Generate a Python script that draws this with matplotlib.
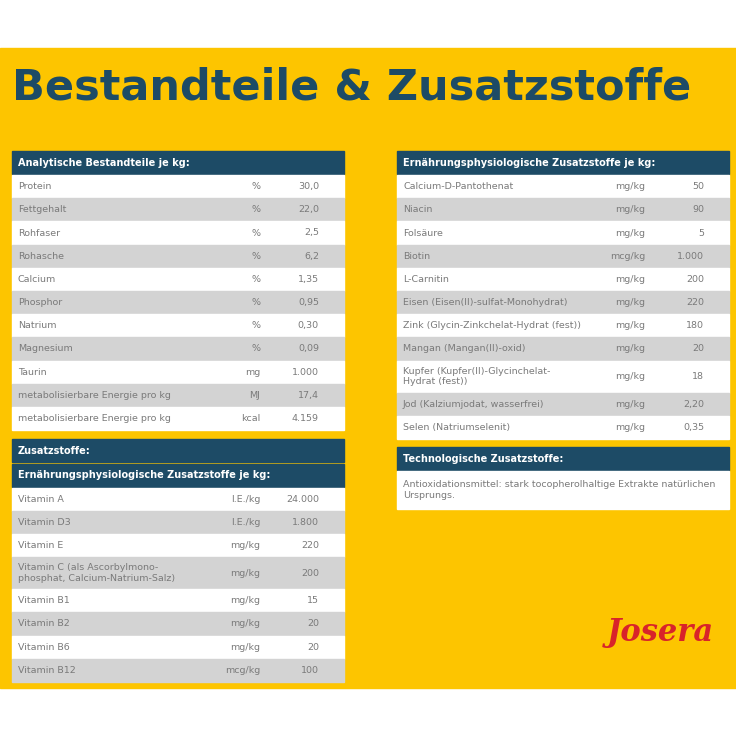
import matplotlib
matplotlib.use("Agg")
import matplotlib.pyplot as plt
from matplotlib.patches import Rectangle

title = "Bestandteile & Zusatzstoffe"

analyt_names = ["Protein", "Fettgehalt", "Rohfaser", "Rohasche", "Calcium", "Phosphor",
                "Natrium", "Magnesium", "Taurin", "metabolisierbare Energie pro kg",
                "metabolisierbare Energie pro kg"]
analyt_units = ["%", "%", "%", "%", "%", "%", "%", "%", "mg", "MJ", "kcal"]
analyt_values = ["30,0", "22,0", "2,5", "6,2", "1,35", "0,95", "0,30", "0,09", "1.000", "17,4", "4.159"]

vit_names = ["Vitamin A", "Vitamin D3", "Vitamin E",
             "Vitamin C (als Ascorbylmono-\nphosphat, Calcium-Natrium-Salz)",
             "Vitamin B1", "Vitamin B2", "Vitamin B6", "Vitamin B12"]
vit_units = ["I.E./kg", "I.E./kg", "mg/kg", "mg/kg", "mg/kg", "mg/kg", "mg/kg", "mcg/kg"]
vit_values = ["24.000", "1.800", "220", "200", "15", "20", "20", "100"]

min_names = ["Calcium-D-Pantothenat", "Niacin", "Folsäure", "Biotin", "L-Carnitin",
             "Eisen (Eisen(II)-sulfat-Monohydrat)", "Zink (Glycin-Zinkchelat-Hydrat (fest))",
             "Mangan (Mangan(II)-oxid)", "Kupfer (Kupfer(II)-Glycinchelat-\nHydrat (fest))",
             "Jod (Kalziumjodat, wasserfrei)", "Selen (Natriumselenit)"]
min_units = ["mg/kg", "mg/kg", "mg/kg", "mcg/kg", "mg/kg", "mg/kg", "mg/kg", "mg/kg",
             "mg/kg", "mg/kg", "mg/kg"]
min_values = ["50", "90", "5", "1.000", "200", "220", "180", "20", "18", "2,20", "0,35"]

tech_text = "Antioxidationsmittel: stark tocopherolhaltige Extrakte natürlichen\nUrsprungs."

YEL = "#fdc500"
HDR = "#1d4b66"
GREY = "#d3d3d3"
TXT = "#7a7a7a"

fig = plt.figure(figsize=(7.36, 7.36), dpi=100)
ax = fig.add_axes([0, 0, 1, 1])
ax.set_xlim(0, 736)
ax.set_ylim(736, 0)
ax.axis("off")
ax.add_patch(Rectangle((0, 48), 736, 640, color=YEL, zorder=0))

ax.text(12, 88, title, fontsize=31, fontweight="bold", color="#1d4b66",
        family="DejaVu Sans", va="center", ha="left")

def header(x0, x1, y, text, h=23):
    ax.add_patch(Rectangle((x0, y), x1 - x0, h, color=HDR, zorder=1))
    ax.text(x0 + 6, y + h / 2, text, color="white", fontsize=7, fontweight="bold",
            va="center", ha="left", zorder=2)
    return y + h

def rows(x0, x1, y, names, units, values, ux, vx, rh=23.2):
    for i, (n, u, v) in enumerate(zip(names, units, values)):
        h = rh * (1.38 if "\n" in n else 1)
        ax.add_patch(Rectangle((x0, y), x1 - x0, h, color=("white" if i % 2 == 0 else GREY), zorder=1))
        cy = y + h / 2
        ax.text(x0 + 6, cy, n, color=TXT, fontsize=6.8, va="center", ha="left", zorder=2, linespacing=1.2)
        ax.text(ux, cy, u, color=TXT, fontsize=6.8, va="center", ha="right", zorder=2)
        ax.text(vx, cy, v, color=TXT, fontsize=6.8, va="center", ha="right", zorder=2)
        y += h
    return y

# left
y = header(12, 344, 151, "Analytische Bestandteile je kg:")
y = rows(12, 344, y + 1, analyt_names, analyt_units, analyt_values, 260, 319)
y = header(12, 344, 439, "Zusatzstoffe:")
y = header(12, 344, y + 1.5, "Ernährungsphysiologische Zusatzstoffe je kg:")
rows(12, 344, y + 1, vit_names, vit_units, vit_values, 260, 319)

# right
y = header(397, 729, 151, "Ernährungsphysiologische Zusatzstoffe je kg:")
y = rows(397, 729, y + 1, min_names, min_units, min_values, 645, 704)
y = header(397, 729, 447, "Technologische Zusatzstoffe:")
ax.add_patch(Rectangle((397, y + 1), 332, 38, color="white", zorder=1))
ax.text(403, y + 20, tech_text, color=TXT, fontsize=6.8, va="center", ha="left", zorder=2, linespacing=1.3)

ax.text(660, 633, "Josera", color="#d8232a", fontsize=22, fontstyle="italic",
        fontweight="bold", family="DejaVu Serif", va="center", ha="center")

fig.savefig("out.png", dpi=100)
